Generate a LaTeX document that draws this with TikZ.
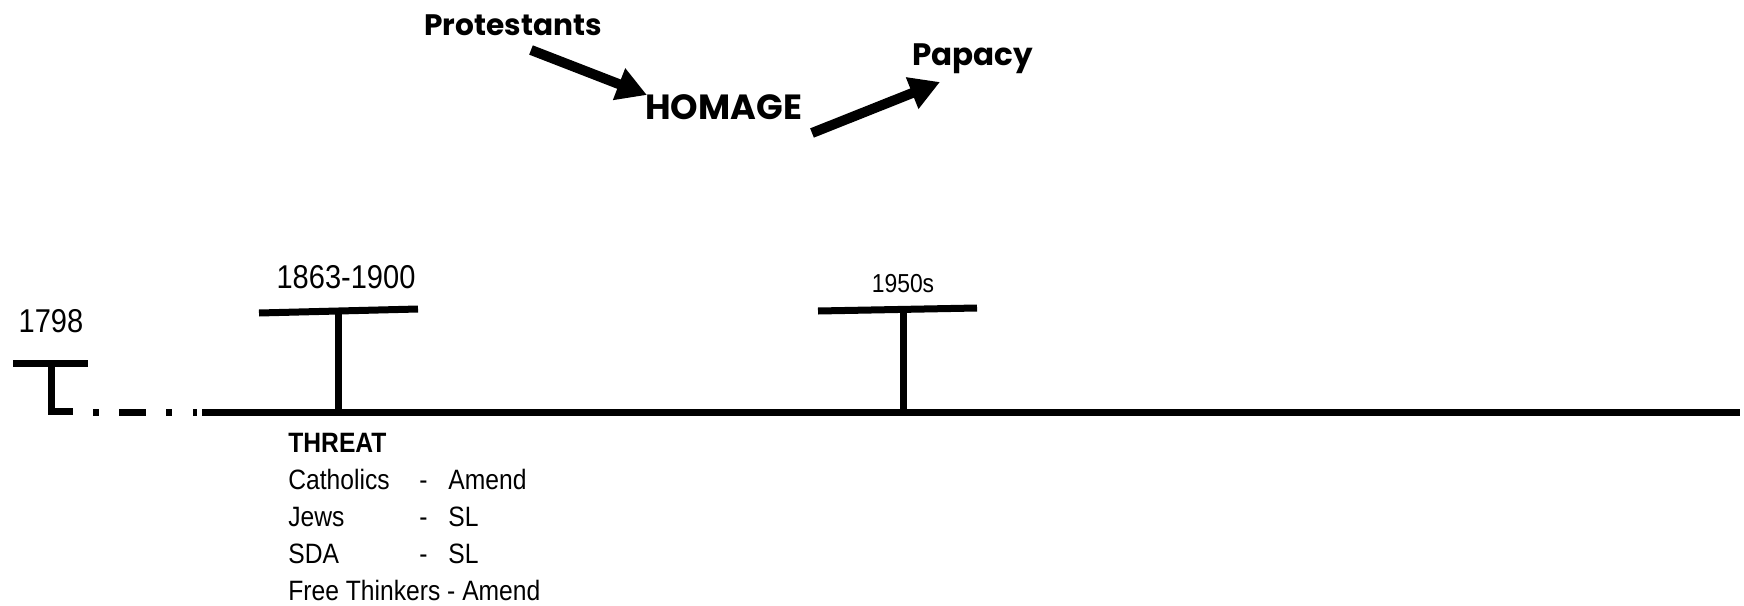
\documentclass[tikz,border=0pt]{standalone}
\usepackage{fontspec}
\usetikzlibrary{arrows.meta}
\newfontfamily\gothic{Poppins}
\newfontfamily\narrowsf[FakeStretch=0.88]{Liberation Sans}
\begin{document}
\begin{tikzpicture}[x=0.5pt,y=-0.5pt,
  bar/.style={line width=3.5pt},
  big/.style={font=\gothic\bfseries\fontsize{15.5}{18}\selectfont, inner sep=0pt, anchor=base west},
  yr/.style={font=\narrowsf\fontsize{16.5}{19}\selectfont, inner sep=0pt, anchor=base},
  lst/.style={font=\narrowsf\fontsize{14}{16}\selectfont, inner sep=0pt, anchor=base west},
  fat/.style={line width=5pt, -{Triangle[length=15pt,width=16pt]}}]
\useasboundingbox (0,0) rectangle (1744,605);
% top words
\node[big, font=\gothic\bfseries\fontsize{14.8}{18}\selectfont] (prot) at (424,35) {Protestants};
\node[big, font=\gothic\bfseries\fontsize{17.5}{20}\selectfont] (hom) at (645,119) {HOMAGE};
\node[big] (pap) at (912,65) {Papacy};
\coordinate (a1s) at (531,50);
\coordinate (a1e) at (647,95);
\coordinate (a2s) at (812,133);
\coordinate (a2e) at (940,82);
\draw[fat] (a1s) -- (a1e);
\draw[fat] (a2s) -- (a2e);
% timeline
\coordinate (m0) at (202,412);
\coordinate (m1) at (1740,412);
\draw[bar] (m0) -- (m1);
\draw[bar] (93,412) -- (99,412);
\draw[bar] (119,412) -- (146,412);
\draw[bar] (166,412) -- (172,412);
\draw[bar] (193,412) -- (197,412);
% 1798
\node[yr] (y1) at (51,332) {1798};
\draw[bar] (13,363) -- (88,363);
\draw[bar] (51,363) -- (51,411) -- (73,411);
% 1863-1900
\node[yr] (y2) at (346,288) {1863-1900};
\draw[bar] (259,313) -- (418,309);
\draw[bar] (338,311) -- (338,412);
% 1950s
\node[yr, font=\narrowsf\fontsize{13}{15}\selectfont] (y3) at (903,292) {1950s};
\draw[bar] (818,311) -- (977,308);
\draw[bar] (903,310) -- (903,412);
% threat list
\node[lst, font=\narrowsf\bfseries\fontsize{14}{16}\selectfont] (th) at (288,452) {THREAT};
\node[lst] (c1) at (288,489) {Catholics};
\node[lst] (c2) at (419,489) {-};
\node[lst] (c3) at (448,489) {Amend};
\node[lst] (j1) at (288,526) {Jews};
\node[lst] (j2) at (419,526) {-};
\node[lst] (j3) at (448,526) {SL};
\node[lst] (s1) at (288,563) {SDA};
\node[lst] (s2) at (419,563) {-};
\node[lst] (s3) at (448,563) {SL};
\node[lst] (f1) at (288,600) {Free Thinkers - Amend};
\end{tikzpicture}
\end{document}
